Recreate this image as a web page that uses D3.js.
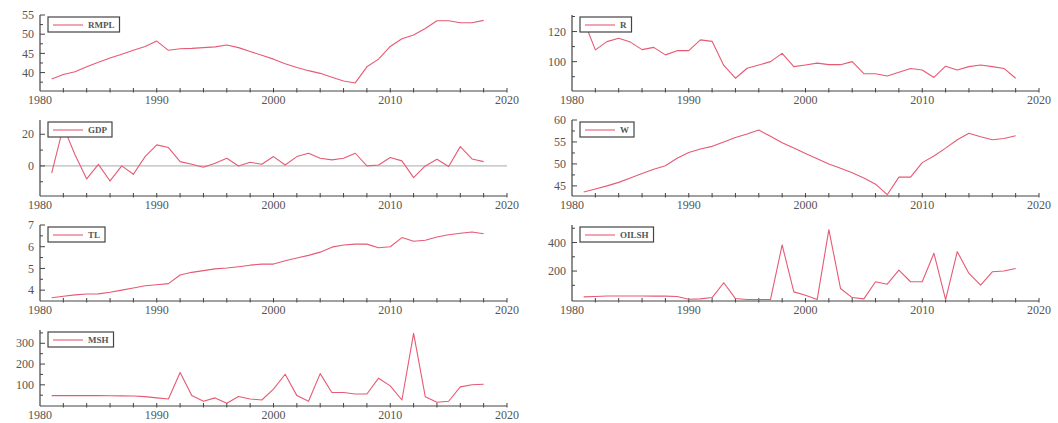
<!DOCTYPE html>
<html>
<head>
<meta charset="utf-8">
<script src="https://cdn.jsdelivr.net/npm/d3@7"></script>
<style>
  body { margin: 0; background: #fff; }
  text { font-family: "Liberation Serif", "DejaVu Serif", serif; fill: #555; }
</style>
</head>
<body>
<svg id="chart" width="1058" height="423"></svg>
<script>
// years 1981..2018
var years = d3.range(1981, 2019);

var rmpl = [38.3,39.5,40.2,41.5,42.7,43.8,44.8,45.8,46.8,48.2,
            45.8,46.2,46.3,46.5,46.7,47.2,46.5,45.5,44.5,43.5,
            42.3,41.3,40.5,39.8,38.8,37.8,37.3,41.5,43.5,46.8,
            48.8,49.8,51.5,53.5,53.5,53.0,53.0,53.6];
var r = [127.5,107.8,113.3,115.5,113,108,109.5,104.5,107.3,107.3,
         114.5,113.5,97.5,89,95.6,97.8,100,105.5,96.7,97.8,
         99,98,98,100,92,92,90.5,93,95.5,94.5,
         89.5,97,94.5,96.7,97.8,96.7,95.5,89];
var gdp = [-4.6,24.8,7,-8.2,1,-9.5,0,-5.3,5.9,13.3,
           11.6,2.7,1,-0.8,1.7,4.8,0,2.3,1,5.9,
           0.6,5.9,8,4.8,3.8,4.8,8,0,0.6,5.3,
           3.2,-7.4,0,4.2,-0.4,12.2,4.4,2.7];
var w = [43.6,44.3,45,45.8,46.8,47.8,48.8,49.6,51.3,52.6,
         53.4,54.0,55.0,56.0,56.8,57.7,56.3,54.8,53.6,52.4,
         51.2,50.0,49.0,48.0,46.8,45.4,43.0,47,47,50.3,
         51.8,53.6,55.5,57,56.2,55.5,55.8,56.4];
var tl = [3.65,3.72,3.78,3.82,3.83,3.9,4.0,4.1,4.2,4.25,
          4.3,4.7,4.82,4.9,4.98,5.02,5.08,5.15,5.2,5.2,
          5.35,5.48,5.6,5.75,5.98,6.08,6.12,6.12,5.95,6.0,
          6.42,6.25,6.3,6.45,6.55,6.62,6.68,6.6];
var oilsh = [19,22,25,25,25,25,24,24,22,2,
             5,14,118,7,0,0,0,383,54,30,
             0,490,78,14,5,125,108,207,125,125,
             325,0,336,183,101,195,200,218];
var msh = [48,48,48,48,48,47,47,46,43,37,
           32,159,48,21,37,11,44,32,27,79,
           151,48,21,154,63,63,56,56,132,95,
           27,348,43,16,21,90,100,103];

var xTicks = [1980, 1990, 2000, 2010, 2020];

var panels = [
  {name:"RMPL",  data:rmpl,  col:0, row:0, dom:[35.2,55],   major:[40,45,50,55],   minor:[37.5,42.5,47.5,52.5]},
  {name:"R",     data:r,     col:1, row:0, dom:[80.5,131],  major:[100,120],       minor:[90,110,130]},
  {name:"GDP",   data:gdp,   col:0, row:1, dom:[-19,29],    major:[0,20],          minor:[-10,10], zero:true},
  {name:"W",     data:w,     col:1, row:1, dom:[42.7,60],   major:[45,50,55,60],   minor:[47.5,52.5,57.5]},
  {name:"TL",    data:tl,    col:0, row:2, dom:[3.5,7],     major:[4,5,6,7],       minor:[4.5,5.5,6.5]},
  {name:"OILSH", data:oilsh, col:1, row:2, dom:[-10,523],   major:[200,400],       minor:[100,300,500]},
  {name:"MSH",   data:msh,   col:0, row:3, dom:[-2,364],    major:[100,200,300],   minor:[50,150,250,350]}
];

var svg = d3.select("#chart");
var colX = [40, 572], plotW = 467;
var rowTop = 15, rowStep = 105, plotH = 76;
var axisColor = "#444", lineColor = "#e65a74";

panels.forEach(function(p){
  var left = colX[p.col], top = rowTop + p.row * rowStep;
  var g = svg.append("g").attr("transform", "translate(" + left + "," + top + ")");

  var x = d3.scaleLinear().domain([1980, 2020]).range([0, plotW]);
  var y = d3.scaleLinear().domain(p.dom).range([plotH, 0]);

  if (p.zero) {
    g.append("line")
      .attr("x1", 0).attr("x2", x(2020))
      .attr("y1", y(0)).attr("y2", y(0))
      .attr("stroke", "#aaa").attr("stroke-width", 1);
  }

  // x axis: ticks every 2 years, crossing the line
  var xa = g.append("g").attr("transform", "translate(0," + plotH + ")");
  xa.append("line").attr("x1", 0).attr("x2", x(2020)).attr("stroke", axisColor).attr("stroke-width", 1.2);
  xa.selectAll(".xt").data(d3.range(1982, 2021, 2)).enter().append("line")
    .attr("x1", function(d){ return x(d); }).attr("x2", function(d){ return x(d); })
    .attr("y1", -3).attr("y2", 1.5)
    .attr("stroke", axisColor).attr("stroke-width", 1);
  xa.selectAll(".xl").data(xTicks).enter().append("text")
    .attr("x", function(d){ return x(d); })
    .attr("y", 13)
    .attr("text-anchor", "middle")
    .attr("font-size", 12)
    .text(function(d){ return d; });

  // y axis
  var ya = g.append("g");
  ya.append("line").attr("y1", 0).attr("y2", plotH).attr("stroke", axisColor).attr("stroke-width", 1.2);
  ya.selectAll(".ymaj").data(p.major).enter().append("line")
    .attr("x1", 0).attr("x2", 5)
    .attr("y1", function(d){ return y(d); }).attr("y2", function(d){ return y(d); })
    .attr("stroke", axisColor);
  ya.selectAll(".ymin").data(p.minor.filter(function(d){ return d >= p.dom[0] && d <= p.dom[1]; })).enter().append("line")
    .attr("x1", 0).attr("x2", 3)
    .attr("y1", function(d){ return y(d); }).attr("y2", function(d){ return y(d); })
    .attr("stroke", axisColor);
  ya.selectAll(".yl").data(p.major).enter().append("text")
    .attr("x", -6)
    .attr("y", function(d){ return y(d); })
    .attr("dy", "0.35em")
    .attr("text-anchor", "end")
    .attr("font-size", 12)
    .text(function(d){ return d; });

  // series
  var line = d3.line()
    .x(function(d, i){ return x(years[i]); })
    .y(function(d){ return y(d); });
  g.append("path")
    .datum(p.data)
    .attr("d", line)
    .attr("fill", "none")
    .attr("stroke", lineColor)
    .attr("stroke-width", 1.1)
    .attr("stroke-linejoin", "round");

  // legend box
  var lg = g.append("g").attr("transform", "translate(8,2)");
  var txt = lg.append("text")
    .attr("x", 40).attr("y", 8)
    .attr("dy", "0.35em")
    .attr("font-size", 9)
    .attr("font-weight", "bold")
    .attr("fill", "#666")
    .text(p.name);
  var tw = txt.node().getComputedTextLength();
  lg.insert("rect", "text")
    .attr("x", 0).attr("y", 0)
    .attr("width", 40 + tw + 5).attr("height", 15)
    .attr("fill", "#fff").attr("stroke", "#444").attr("stroke-width", 1.2);
  lg.append("line")
    .attr("x1", 5).attr("x2", 35).attr("y1", 8).attr("y2", 8)
    .attr("stroke", lineColor).attr("stroke-width", 1.1);
});
</script>
</body>
</html>
